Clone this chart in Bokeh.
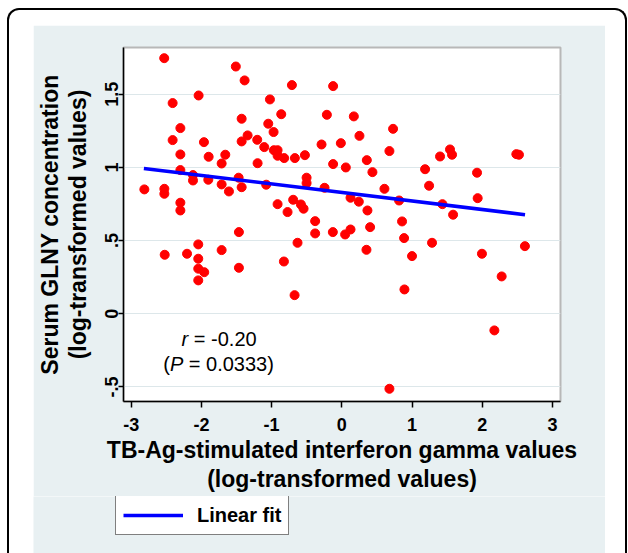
import math
from bokeh.plotting import figure
from bokeh.models import Range1d, Label, Legend, LegendItem, FixedTicker, Column, Row
from bokeh.embed import file_html
from bokeh.resources import INLINE

# TB-Ag-stimulated IFN-gamma (log) vs serum GLNY (log)
ifn_gamma = [
    -2.53, -1.51, -1.385, -0.711, -0.124, -2.04, -2.41, -1.024, -1.427, -0.863, -0.213,
    -2.30, -1.048, -0.972, -2.41, -1.964, -1.427, -1.342, -1.205, -1.105, -0.968, -0.915,
    -0.915, -0.821, -0.669, -0.526, -0.289, -0.014, -0.124, 0.057,
    -2.30, -1.897, -1.660, -1.712, -1.2, -2.30, -2.12, -2.12, -1.902, -1.470, -1.427,
    -1.712, -1.608, -1.077, -0.502, -0.502, -0.246, -2.813, -2.528, -2.528, -2.30, -2.30,
    -0.915, -0.693, -0.583, -0.545, -0.773,
    0.171, 0.730, 0.251, 0.678, 0.356, 0.436, 1.399, 1.541, 1.570, 1.186, 1.243, 1.926,
    2.486, 2.523, 0.607, 0.124, 0.242, 0.816, 1.433, 1.935, 0.365,
    1.585, -0.128, 0.047, 0.124, 0.403, 0.858, 0.887, 1.285, 0.351, 1.0, 1.996, 2.608,
    2.277, 0.892, 2.173, 0.678,
    -0.380, -0.380, -1.466, -2.045, -2.523, -2.205, -2.045, -1.712, -2.045, -1.96, -2.045,
    -1.466, -0.631, -0.825, -0.673,
]
glny = [
    1.747, 1.69, 1.595, 1.563, 1.556, 1.492, 1.44, 1.465, 1.333, 1.364, 1.36,
    1.269, 1.299, 1.242, 1.187, 1.173, 1.178, 1.219, 1.189, 1.139, 1.118, 1.118,
    1.080, 1.064, 1.064, 1.084, 1.157, 1.166, 1.023, 1.0,
    1.089, 1.073, 1.087, 1.027, 1.029, 0.982, 0.948, 0.911, 0.916, 0.930, 0.865,
    0.884, 0.836, 0.882, 0.930, 0.893, 0.861, 0.85, 0.854, 0.820, 0.759, 0.706,
    0.749, 0.779, 0.747, 0.718, 0.695,
    1.349, 1.264, 1.216, 1.112, 1.05, 0.968, 1.075, 1.123, 1.087, 0.988, 0.875, 0.964,
    1.091, 1.087, 0.854, 0.793, 0.766, 0.774, 0.749, 0.790, 0.706,
    0.677, 0.558, 0.542, 0.576, 0.592, 0.631, 0.517, 0.485, 0.437, 0.394, 0.410, 0.462,
    0.255, 0.166, -0.114, -0.513,
    0.633, 0.549, 0.558, 0.474, 0.403, 0.410, 0.376, 0.435, 0.308, 0.284, 0.228,
    0.314, 0.485, 0.357, 0.127,
]
fit_x = [-2.82, 2.61]
fit_y = [0.993, 0.677]

x_ticks = [-3, -2, -1, 0, 1, 2, 3]
x_tick_labels = ["-3", "-2", "-1", "0", "1", "2", "3"]
y_ticks = [-0.5, 0, 0.5, 1, 1.5]
y_tick_labels = ["-.5", "0", ".5", "1", "1.5"]

x_title = "TB-Ag-stimulated interferon gamma values\n(log-transformed values)"
y_title = "Serum GLNY concentration\n(log-transformed values)"
legend_label = "Linear fit"

FONT = "Liberation Sans"
PANEL = "#e8f0f2"
GRID = "#dde7ea"

p = figure(width=572, height=471, output_backend="svg", toolbar_location=None,
           x_range=Range1d(-3.11, 3.115), y_range=Range1d(-0.60, 1.82),
           min_border_left=89, min_border_right=45, min_border_top=22,
           min_border_bottom=95)
p.border_fill_color = PANEL
p.background_fill_color = "white"
p.outline_line_color = "#b8b8b8"
p.outline_line_width = 2

pts = p.scatter(ifn_gamma, glny, size=9, color="#ff0000", line_color="#ff0000")
fit = p.line(fit_x, fit_y, line_color="#0000ff", line_width=3.5)

p.xgrid.visible = False
p.ygrid.grid_line_color = GRID
p.ygrid.grid_line_width = 1.2

for ax in (p.xaxis[0], p.yaxis[0]):
    ax.axis_line_color = "black"
    ax.axis_line_width = 1.5
    ax.major_tick_line_color = "black"
    ax.major_tick_line_width = 1.5
    ax.major_tick_in = 0
    ax.minor_tick_line_color = None
    ax.major_label_text_font = FONT
    ax.major_label_text_font_style = "bold"
    ax.major_label_text_font_size = "18px"
    ax.major_label_text_color = "black"
    ax.axis_label_text_font = FONT
    ax.axis_label_text_font_style = "bold"
    ax.axis_label_text_font_size = "23px"
    ax.axis_label_text_color = "black"
    ax.axis_label_text_align = "center"

p.xaxis[0].ticker = FixedTicker(ticks=x_ticks)
p.xaxis[0].major_label_overrides = {t: l for t, l in zip(x_ticks, x_tick_labels)}
p.xaxis[0].major_tick_out = 6
p.xaxis[0].major_label_standoff = 10
p.xaxis[0].axis_label = x_title
p.xaxis[0].axis_label_standoff = 3
p.xaxis[0].axis_label_text_line_height = 1.12
p.yaxis[0].ticker = FixedTicker(ticks=y_ticks)
p.yaxis[0].major_label_overrides = {t: l for t, l in zip(y_ticks, y_tick_labels)}
p.yaxis[0].major_label_orientation = "vertical"
p.yaxis[0].major_tick_out = 5
p.yaxis[0].major_label_standoff = 0
p.yaxis[0].axis_label = y_title
p.yaxis[0].axis_label_standoff = 12
p.yaxis[0].axis_label_text_line_height = 1.06

ann_kw = dict(x_units="screen", y_units="screen", text_font=FONT,
              text_font_size="20px", text_color="black",
              text_align="left", text_baseline="middle")
p.add_layout(Label(x=58, y=63, text="r", text_font_style="italic", **ann_kw))
p.add_layout(Label(x=70.3, y=63, text="= -0.20", **ann_kw))
p.add_layout(Label(x=39.7, y=38, text="(", **ann_kw))
p.add_layout(Label(x=46.4, y=38, text="P", text_font_style="italic", **ann_kw))
p.add_layout(Label(x=65.3, y=38, text="= 0.0333)", **ann_kw))

# Legend strip (a second, axis-less figure below the plot)
leg = figure(width=572, height=57, output_backend="svg", toolbar_location=None,
             x_range=Range1d(10, 11), y_range=Range1d(10, 11),
             x_axis_location=None, y_axis_location=None,
             min_border=0, min_border_left=0, min_border_right=0,
             min_border_top=0, min_border_bottom=0)
leg.grid.visible = False
leg.outline_line_color = None
leg.background_fill_color = PANEL
leg.border_fill_color = PANEL
leg_line = leg.line(fit_x, fit_y, line_color="#0000ff", line_width=3.5)

legend = Legend(items=[LegendItem(label=legend_label, renderers=[leg_line])],
                location=(82, 18), orientation="vertical",
                border_line_color="black", border_line_width=1,
                background_fill_color="white", background_fill_alpha=1,
                padding=7, margin=0, spacing=0,
                glyph_width=60, glyph_height=24, label_height=24,
                label_standoff=14, label_text_font=FONT,
                label_text_font_style="bold", label_text_font_size="20px",
                label_text_color="black")
leg.add_layout(legend)

root = Column(children=[p, Row(children=[leg])], spacing=0, styles={
    "background-color": "white",
    "border": "2px solid black",
    "border-bottom": "none",
    "border-radius": "12px 12px 0 0",
    "margin": "8px 0 0 7px",
    "padding": "15px 20px 0px 24px",
})

open("out.html", "w").write(file_html(root, INLINE))
